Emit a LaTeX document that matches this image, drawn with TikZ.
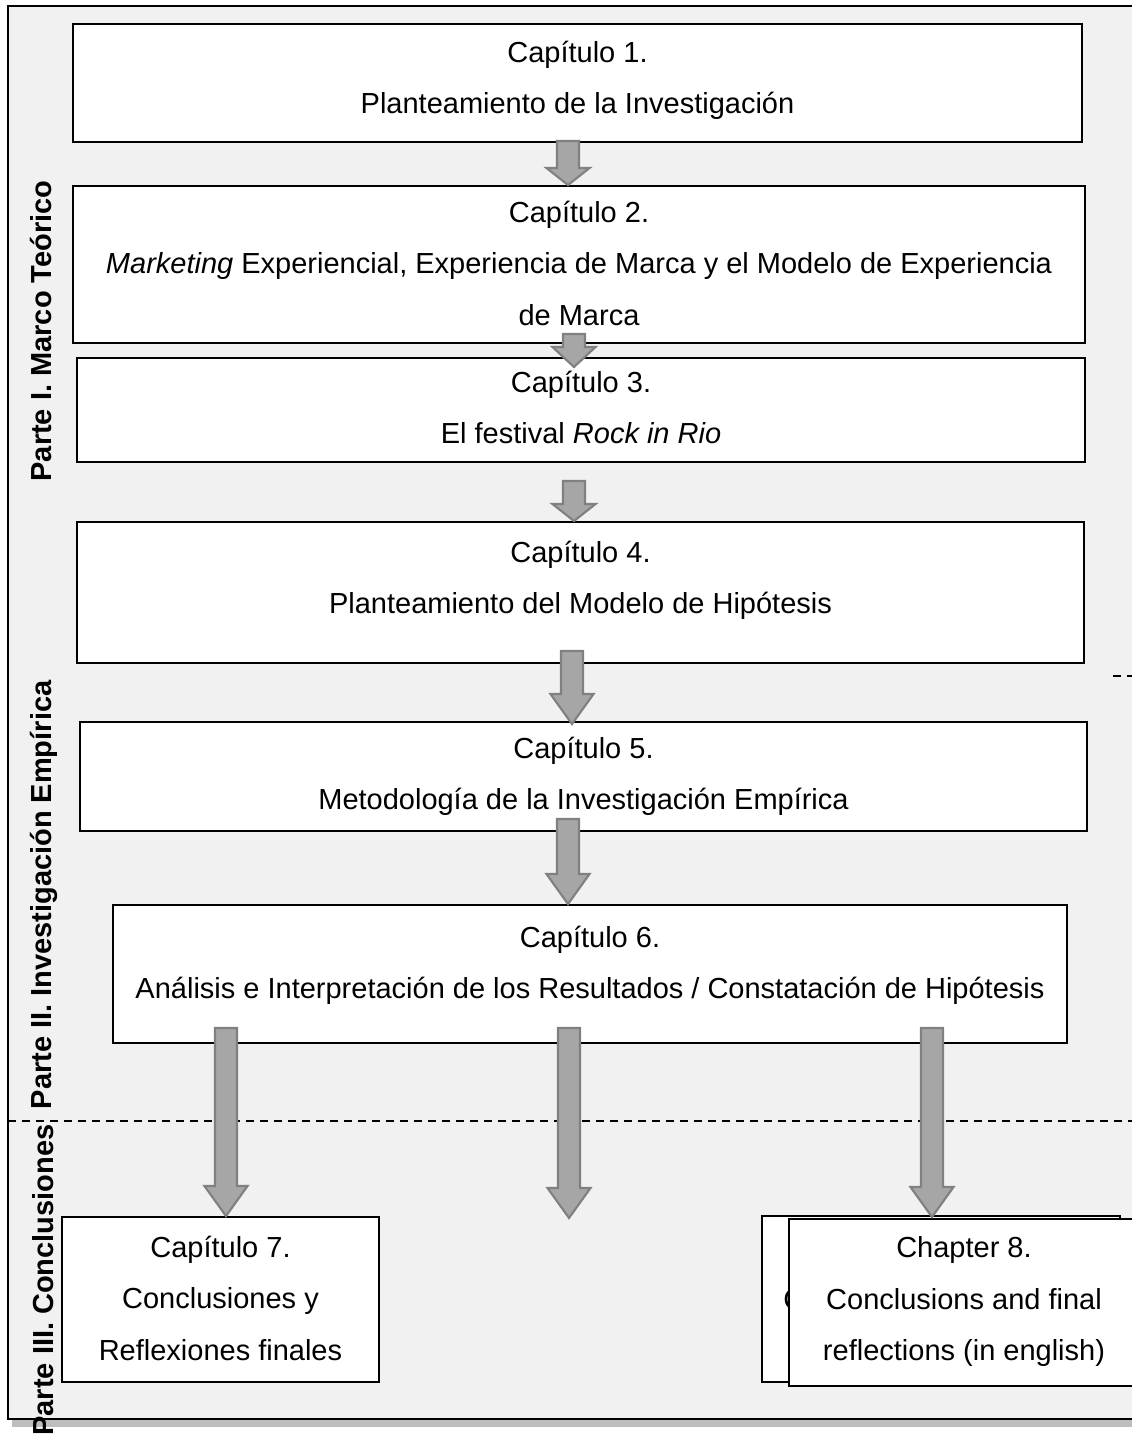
\documentclass[tikz,border=0pt]{standalone}
\usepackage{fontspec}
\setmainfont{Liberation Sans}
\usetikzlibrary{calc}
\definecolor{panelgray}{RGB}{241,241,241}
\definecolor{shadowgray}{RGB}{190,190,190}
\definecolor{arrowfill}{RGB}{166,166,166}
\definecolor{arrowline}{RGB}{128,128,128}
\begin{document}
\begin{tikzpicture}[
chapbox/.style={draw, line width=1.1pt, fill=white, inner sep=0pt},
chaptext/.style={anchor=north, align=center, inner sep=0pt,
  font=\fontsize{16.5}{29.3}\selectfont},
partlabel/.style={rotate=90, anchor=base, inner sep=0pt,
  font=\fontsize{16.5}{20}\selectfont\bfseries},
divider/.style={line width=1.1pt, dash pattern=on 0.16cm off 0.12cm},
blockarrow/.style={fill=arrowfill, draw=arrowline, line width=1.2pt,
  to path={let \p1=(\tikztostart), \p2=(\tikztotarget) in
    (\x1-0.22cm,\y1) -- (\x1-0.22cm,\y2+#1) -- (\x1-0.43cm,\y2+#1) -- (\x1,\y2)
    -- (\x1+0.43cm,\y2+#1) -- (\x1+0.22cm,\y2+#1) -- (\x1+0.22cm,\y1) -- cycle}},
blockarrow/.default=0.6cm
]
\useasboundingbox (0,0) rectangle (22.64,-28.78);

% panel
\fill[shadowgray] (0.24,-0.2) rectangle (22.9,-28.54);
\draw[line width=1.2pt, fill=panelgray] (0.16,-0.12) rectangle (22.8,-28.38);

% parts
\draw[divider] (0.16,-22.42) -- (22.64,-22.42);
\draw[divider] (22.26,-13.52) -- (22.64,-13.52);
\node[partlabel] (p1) at (1.04,-6.62) {Parte I. Marco Teórico};
\node[partlabel] (p2) at (1.04,-17.9) {Parte II. Investigación Empírica};
\node[partlabel] (p3) at (1.06,-25.6) {Parte III. Conclusiones};

% chapters
\node[chapbox, minimum width=20.18cm, minimum height=2.36cm] (c1) at (11.55,-1.66) {};
\node[chaptext] (t1) at ([yshift=-0.35cm]c1.north)
  {Capítulo 1.\\Planteamiento de la Investigación};
\node[chapbox, minimum width=20.24cm, minimum height=3.14cm] (c2) at (11.58,-5.29) {};
\node[chaptext] (t2) at ([yshift=-0.31cm]c2.north)
  {Capítulo 2.\\\textit{Marketing} Experiencial, Experiencia de Marca y el Modelo de Experiencia\\de Marca};
\node[chapbox, minimum width=20.16cm, minimum height=2.08cm] (c3) at (11.62,-8.2) {};
\node[chaptext] (t3) at ([yshift=-0.27cm]c3.north)
  {Capítulo 3.\\El festival \textit{Rock in Rio}};
\node[chapbox, minimum width=20.14cm, minimum height=2.82cm] (c4) at (11.61,-11.85) {};
\node[chaptext] (t4) at ([yshift=-0.39cm]c4.north)
  {Capítulo 4.\\Planteamiento del Modelo de Hipótesis};
\node[chapbox, minimum width=20.14cm, minimum height=2.18cm] (c5) at (11.67,-15.53) {};
\node[chaptext] (t5) at ([yshift=-0.31cm]c5.north)
  {Capítulo 5.\\Metodología de la Investigación Empírica};
\node[chapbox, minimum width=19.08cm, minimum height=2.76cm] (c6) at (11.8,-19.48) {};
\node[chaptext] (t6) at ([yshift=-0.43cm]c6.north)
  {Capítulo 6.\\Análisis e Interpretación de los Resultados / Constatación de Hipótesis};
\node[chapbox, minimum width=6.34cm, minimum height=3.3cm] (c7) at (4.41,-25.99) {};
\node[chaptext] (t7) at ([yshift=-0.39cm]c7.north)
  {Capítulo 7.\\Conclusiones y\\Reflexiones finales};
\node[chapbox, minimum width=7.16cm, minimum height=3.32cm] (c8b) at (18.82,-25.98) {};
\node[chaptext, anchor=west] (t8b) at (15.66,-26.0) {C};
\node[chapbox, minimum width=7.0cm, minimum height=3.34cm] (c8) at (19.28,-26.05) {};
\node[chaptext] (t8) at ([yshift=-0.37cm]c8.north)
  {Chapter 8.\\Conclusions and final\\reflections (in english)};

% arrows
\coordinate (a7end) at (11.38,-24.36);
\draw[blockarrow=0.34cm] ([xshift=-0.19cm,yshift=0.04cm]c1.south) to (c2.north);
\draw[blockarrow=0.4cm] ([xshift=-0.1cm,yshift=0.2cm]c2.south) to ([yshift=-0.2cm]c3.north);
\draw[blockarrow=0.34cm] ([xshift=-0.14cm,yshift=-0.36cm]c3.south) to (c4.north);
\draw[blockarrow] ([xshift=-0.17cm,yshift=0.26cm]c4.south) to ([yshift=-0.06cm]c5.north);
\draw[blockarrow] ([xshift=-0.31cm,yshift=0.26cm]c5.south) to (c6.north);
\draw[blockarrow] ([xshift=-7.28cm,yshift=0.32cm]c6.south) to (c7.north);
\draw[blockarrow] ([xshift=-0.42cm,yshift=0.32cm]c6.south) to (a7end);
\draw[blockarrow] ([xshift=6.84cm,yshift=0.32cm]c6.south) to ([yshift=0.02cm]c8.north);

\end{tikzpicture}
\end{document}
